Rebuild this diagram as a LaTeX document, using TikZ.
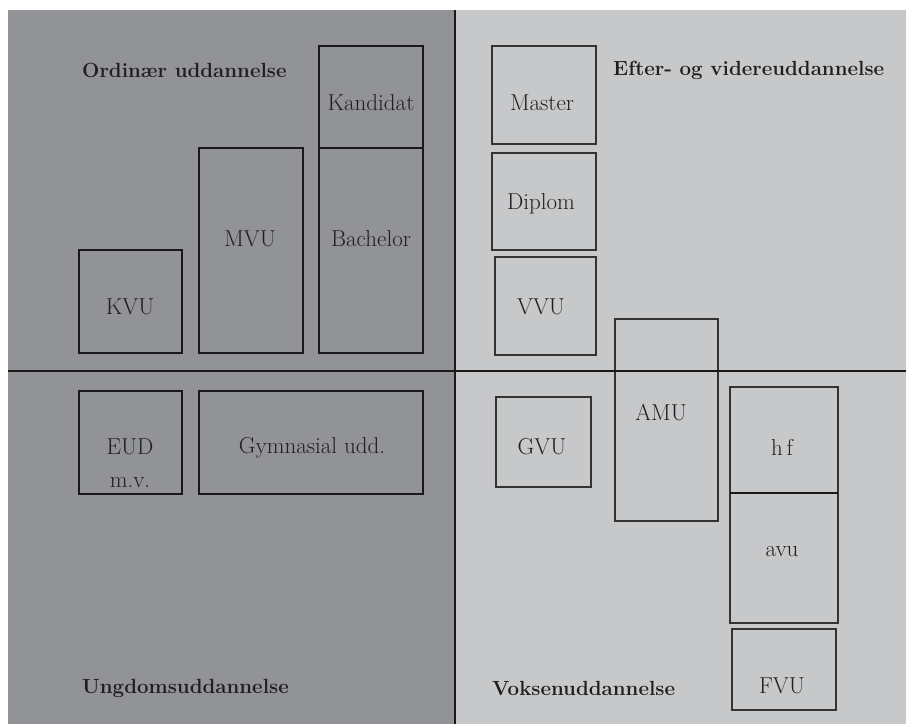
\documentclass[tikz,border=0pt]{standalone}
\usepackage{fontspec}
\begin{document}
\begin{tikzpicture}[x=1pt,y=-1pt,
  lbl/.style={inner sep=0pt, text=black!88, font=\fontsize{23}{27}\selectfont},
  ttl/.style={inner sep=0pt, text=black!88, font=\fontsize{20.5}{24}\selectfont\bfseries},
  thickbox/.style={draw=black!90, line width=2.4pt},
  thinbox/.style={draw=black!80, line width=1.2pt},
  divider/.style={draw=black!90, line width=2.2pt}]
\definecolor{darkpanel}{RGB}{146,147,151}
\definecolor{lightpanel}{RGB}{199,200,202}
\useasboundingbox (0,0) rectangle (906,724);
\fill[white] (0,0) rectangle (906,724);
\fill[darkpanel] (8,10) rectangle (455,724);
\fill[lightpanel] (455,10) rectangle (906,724);
% dividers
\coordinate (vtop) at (455,10);
\coordinate (vbot) at (455,724);
\coordinate (hl) at (8,371);
\coordinate (hr) at (906,371);
% left top boxes
\draw[thickbox] (79,250) rectangle (182,353);
\draw[thickbox] (199,148) rectangle (303,353);
\draw[thickbox] (319,46) rectangle (423,148);
\draw[thickbox] (319,148) rectangle (423,353);
% left bottom boxes
\draw[thickbox] (79,391) rectangle (182,494);
\draw[thickbox] (199,391) rectangle (423,494);
% right top boxes
\draw[thinbox] (492,46) rectangle (596,144);
\draw[thinbox] (492,153) rectangle (596,250);
\draw[thinbox] (495,257) rectangle (596,355);
% right bottom boxes
\draw[thinbox] (496,397) rectangle (591,487);
\draw[thinbox] (615,319) rectangle (718,521);
\draw[thinbox] (730,387) rectangle (838,623);
\draw[draw=black!90, line width=2pt] (730,493) -- (838,493);
\draw[thinbox] (732,629) rectangle (836,710);
% dividers on top
\draw[divider] (vtop) -- (vbot);
\draw[divider] (hl) -- (hr);
% titles
\node[ttl, anchor=west] (ord) at (82,70) {Ordinær uddannelse};
\node[ttl, anchor=west] (eft) at (613,70) {Efter- og videreuddannelse};
\node[ttl, anchor=west] (ung) at (82,688) {Ungdomsuddannelse};
\node[ttl, anchor=west] (vok) at (492,688) {Voksenuddannelse};
% labels
\node[lbl] (kand) at (371,103) {Kandidat};
\node[lbl] (mvu) at (250,239) {MVU};
\node[lbl] (bach) at (371,239) {Bachelor};
\node[lbl] (kvu) at (130,307) {KVU};
\node[lbl] (eud) at (130,447) {EUD};
\node[lbl] (mv) at (130,483) {m.v.};
\node[lbl] (gym) at (312,448) {Gymnasial udd.};
\node[lbl] (mast) at (542,103) {Master};
\node[lbl] (dipl) at (541,204) {Diplom};
\node[lbl] (vvu) at (541,307) {VVU};
\node[lbl] (gvu) at (542,447) {GVU};
\node[lbl] (amu) at (661,413) {AMU};
\node[lbl] (hf) at (782,447) {h\,f};
\node[lbl] (avu) at (782,552) {avu};
\node[lbl] (fvu) at (782,686) {FVU};
\end{tikzpicture}
\end{document}
